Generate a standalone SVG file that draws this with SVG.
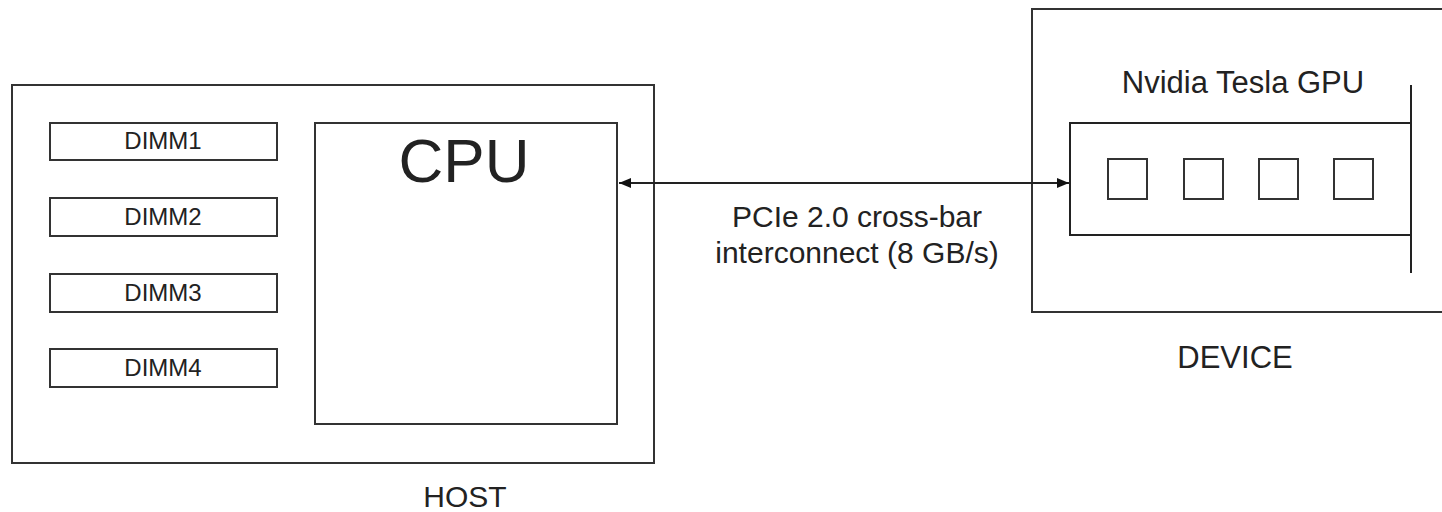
<svg xmlns="http://www.w3.org/2000/svg" width="1442" height="512" viewBox="0 0 1442 512">
<style>
.box{fill:#fff;stroke:#333;stroke-width:2}
.ln{fill:none;stroke:#222;stroke-width:2}
.t{font-family:"Liberation Sans",Arial,sans-serif;fill:#222;text-anchor:middle}
</style>
<defs>
<marker id="ah" viewBox="0 0 12 10" refX="12" refY="5" markerWidth="12" markerHeight="10" markerUnits="userSpaceOnUse" orient="auto-start-reverse">
<path d="M0,0 L12,5 L0,10 Z" fill="#111"/>
</marker>
</defs>
<rect width="1442" height="512" fill="#fff"/>
<g id="host">
<rect class="box" x="12" y="85" width="642" height="378"/>
<text class="t" x="465" y="507" font-size="30">HOST</text>
</g>
<g id="dimm1"><rect class="box" x="50" y="123" width="227" height="37"/><text class="t" x="163" y="149" font-size="24">DIMM1</text></g>
<g id="dimm2"><rect class="box" x="50" y="198" width="227" height="38"/><text class="t" x="163" y="225" font-size="24">DIMM2</text></g>
<g id="dimm3"><rect class="box" x="50" y="274" width="227" height="38"/><text class="t" x="163" y="301" font-size="24">DIMM3</text></g>
<g id="dimm4"><rect class="box" x="50" y="349" width="227" height="38"/><text class="t" x="163" y="376" font-size="24">DIMM4</text></g>
<g id="cpu">
<rect class="box" x="315" y="123" width="302" height="301"/>
<text class="t" x="464" y="182" font-size="62">CPU</text>
</g>
<g id="device">
<rect class="box" x="1032" y="9" width="420" height="303"/>
<text class="t" x="1235" y="368" font-size="31">DEVICE</text>
</g>
<g id="gpu">
<text class="t" x="1243" y="93" font-size="31">Nvidia Tesla GPU</text>
<path class="ln" d="M1411,123 H1070 V235 H1411"/>
<line class="ln" x1="1411" y1="85" x2="1411" y2="273"/>
<rect class="box" x="1108" y="159" width="39" height="40"/>
<rect class="box" x="1184" y="159" width="39" height="40"/>
<rect class="box" x="1259" y="159" width="39" height="40"/>
<rect class="box" x="1334" y="159" width="39" height="40"/>
</g>
<g id="connectors">
<line class="ln" x1="619" y1="183" x2="1069" y2="183" marker-start="url(#ah)" marker-end="url(#ah)"/>
<text class="t" x="857" y="227" font-size="30">PCIe 2.0 cross-bar</text>
<text class="t" x="857" y="263" font-size="30">interconnect (8 GB/s)</text>
</g>
</svg>
